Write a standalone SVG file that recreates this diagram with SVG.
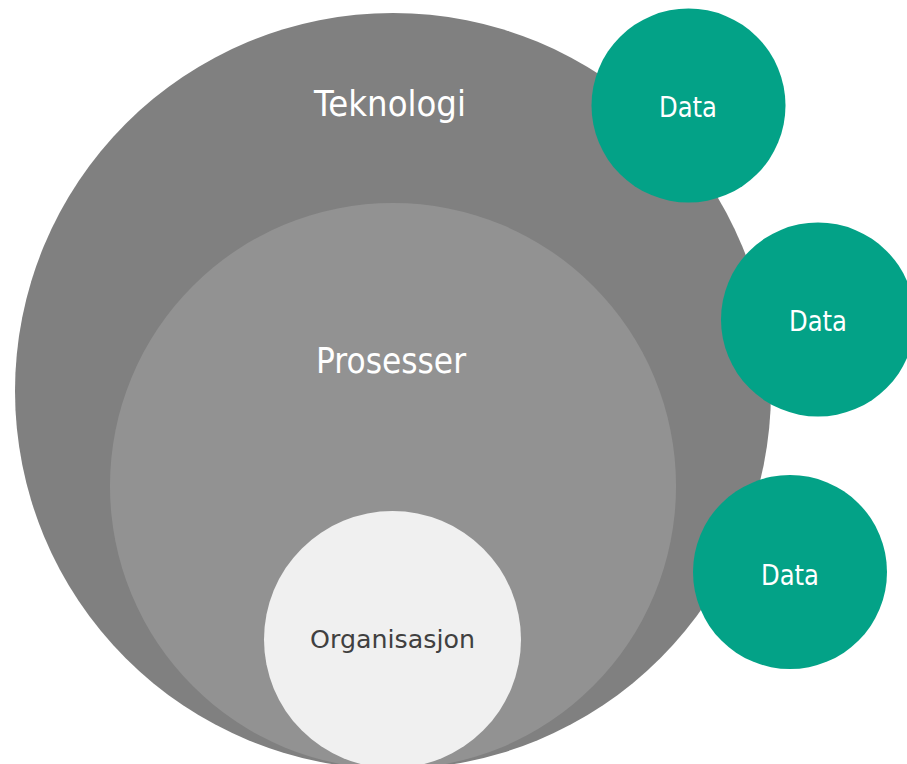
<svg xmlns="http://www.w3.org/2000/svg" width="907" height="764" viewBox="0 0 907 764">
<style>
text { font-family: "DejaVu Sans", Verdana, sans-serif; text-anchor: middle; }
.light { fill: #ffffff; }
.data { fill: #03a287; }
</style>
<rect x="0" y="0" width="907" height="764" fill="#ffffff"/>
<g id="teknologi">
<circle cx="393" cy="391" r="378" fill="#808080"/>
<text class="light" x="390" y="116" font-size="35" textLength="152" lengthAdjust="spacingAndGlyphs">Teknologi</text>
</g>
<g id="prosesser">
<circle cx="393" cy="486" r="283" fill="#929292"/>
<text class="light" x="391" y="373" font-size="35" textLength="150" lengthAdjust="spacingAndGlyphs">Prosesser</text>
</g>
<g id="organisasjon">
<circle cx="392.5" cy="639.5" r="128.5" fill="#f0f0f0"/>
<text x="392.5" y="648" font-size="25" fill="#404040" textLength="165" lengthAdjust="spacingAndGlyphs">Organisasjon</text>
</g>
<g id="data1">
<circle class="data" cx="688.5" cy="105.5" r="97"/>
<text class="light" x="688" y="117" font-size="28" textLength="58" lengthAdjust="spacingAndGlyphs">Data</text>
</g>
<g id="data2">
<circle class="data" cx="818" cy="319.5" r="97"/>
<text class="light" x="818" y="331" font-size="28" textLength="58" lengthAdjust="spacingAndGlyphs">Data</text>
</g>
<g id="data3">
<circle class="data" cx="790" cy="572" r="97"/>
<text class="light" x="790" y="585" font-size="28" textLength="58" lengthAdjust="spacingAndGlyphs">Data</text>
</g>
<g id="connectors"/>
</svg>
